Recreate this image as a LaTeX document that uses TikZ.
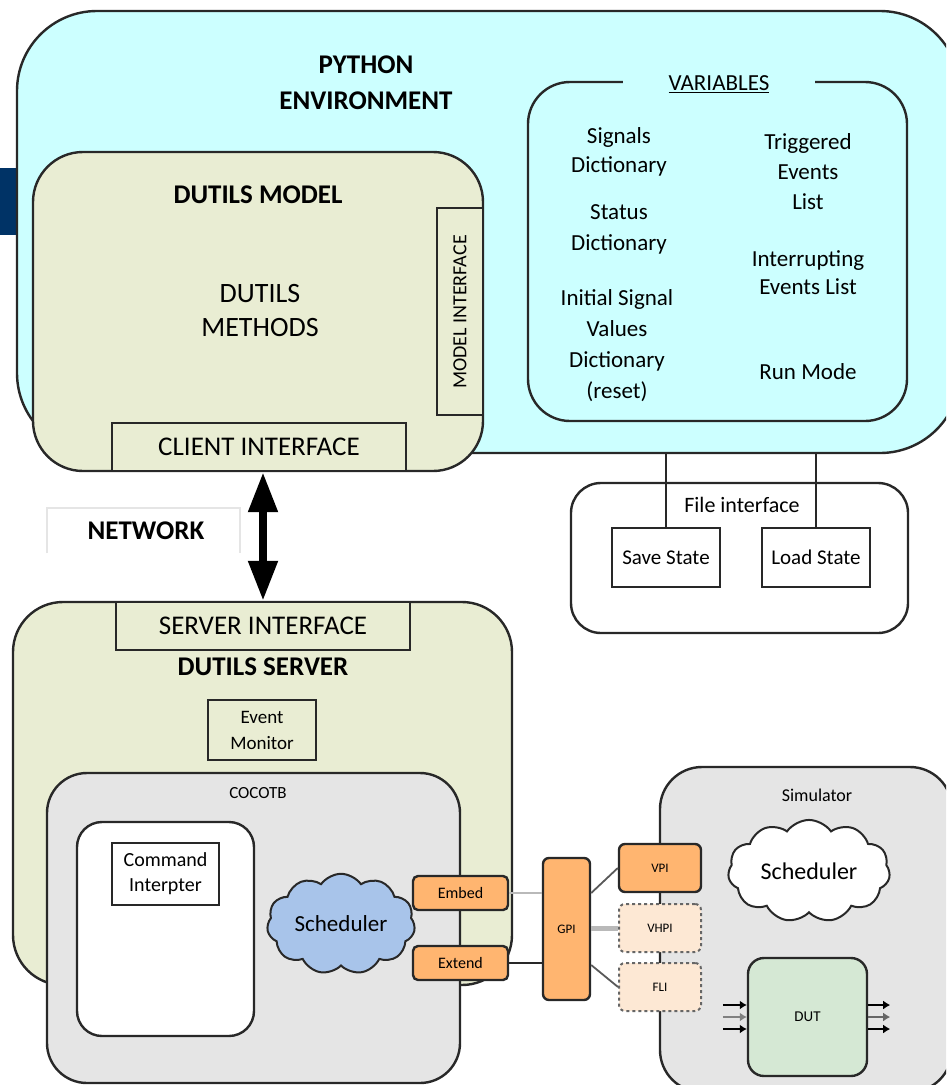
\documentclass[tikz,border=0pt]{standalone}
\usepackage{fontspec}
\setmainfont{Carlito}
\usetikzlibrary{shapes.symbols,arrows.meta}
\definecolor{pycyan}{RGB}{204,255,255}
\definecolor{oliv}{RGB}{233,237,211}
\definecolor{navy}{RGB}{0,51,102}
\definecolor{cocogray}{RGB}{229,229,229}
\definecolor{cloudblue}{RGB}{168,196,234}
\definecolor{orng}{RGB}{255,181,112}
\definecolor{lorng}{RGB}{253,232,212}
\definecolor{dutgreen}{RGB}{213,232,212}
\definecolor{edge}{RGB}{40,40,40}
\newcommand{\fs}[2]{\fontsize{#1}{#2}\selectfont}
\begin{document}
\begin{tikzpicture}[x=1pt,y=-1pt,
  box/.style={draw=edge, line width=2.4pt, inner sep=0pt, align=center},
  lbl/.style={inner sep=0pt, align=center},
  orangebox/.style={box, fill=orng, rounded corners=5pt},
  dashbox/.style={draw=gray!80!black, line width=2pt, dashed, fill=lorng, rounded corners=6pt, inner sep=0pt, align=center},
  link/.style={draw=edge, line width=2.2pt},
  glink/.style={draw=gray!55, line width=2.2pt},
  pin/.style={line width=2.4pt, -{Latex[length=7pt,width=9pt]}}
]
\useasboundingbox (0,0) rectangle (946,1085);
\clip (0,0) rectangle (946,1085);
\fill[white] (0,0) rectangle (946,1085);

% ---------- python environment ----------
\fill[navy] (0,168) rectangle (17,235);
\node[box, fill=pycyan, rounded corners=80pt, minimum width=943pt, minimum height=442pt] (py) at (488.5,232) {};
\node[lbl, font=\fs{27}{36}\bfseries] (pytitle) at (366,83) {PYTHON\\ENVIRONMENT};

% DUTILS model
\node[box, fill=oliv, rounded corners=50pt, minimum width=450pt, minimum height=319pt] (model) at (258,311.5) {};
\node[lbl, font=\fs{27}{33}\bfseries] (modeltitle) at (258,195) {DUTILS MODEL};
\node[lbl, font=\fs{28}{34}] (methods) at (260,311) {DUTILS\\METHODS};
\node[box, fill=oliv, minimum width=46pt, minimum height=207pt] (modelif) at (460,311.5) {};
\node[lbl, font=\fs{20}{24}, rotate=90] (modeliftext) at (460,312) {MODEL INTERFACE};
\node[box, fill=oliv, minimum width=294pt, minimum height=48pt, font=\fs{27}{33}] (client) at (259,447) {CLIENT INTERFACE};

% variables
\node[box, fill=pycyan, rounded corners=42pt, minimum width=379pt, minimum height=339pt] (vars) at (717.5,251.5) {};
\node[fill=pycyan, inner sep=2pt, minimum width=192pt, font=\fs{23}{28}] (vartitle) at (719,84) {\underline{VARIABLES}};
\node[lbl, font=\fs{23}{29}] (sigdict) at (619,152) {Signals\\Dictionary};
\node[lbl, font=\fs{23}{31}] (statdict) at (619,229) {Status\\Dictionary};
\node[lbl, font=\fs{23}{31}] (initdict) at (617,346) {Initial Signal\\Values\\Dictionary\\(reset)};
\node[lbl, font=\fs{23}{30}] (trig) at (808,172) {Triggered\\Events\\List};
\node[lbl, font=\fs{23}{28}] (intr) at (808,273) {Interrupting\\Events List};
\node[lbl, font=\fs{23}{28}] (runmode) at (808,372) {Run Mode};

% file interface
\node[box, fill=white, rounded corners=30pt, minimum width=337pt, minimum height=150pt] (fileif) at (739.5,558) {};
\node[lbl, font=\fs{22}{26}] (fileiftext) at (742,505) {File interface};
\node[box, fill=white, line width=2.8pt, minimum width=108pt, minimum height=59pt, font=\fs{21}{25}] (save) at (666,557.5) {Save State};
\node[box, fill=white, line width=2.8pt, minimum width=108pt, minimum height=59pt, font=\fs{21}{25}] (load) at (816,557.5) {Load State};
\draw[link] (save.north) -- (save.north |- py.south);
\draw[link] (load.north) -- (load.north |- py.south);

% network
\draw[gray!20, line width=2pt] (47,553) |- (240,508) -- (240,553);
\node[lbl, font=\fs{27}{33}\bfseries] (network) at (146,531) {NETWORK};

% ---------- dutils server ----------
\node[box, fill=oliv, rounded corners=50pt, minimum width=499pt, minimum height=383pt] (server) at (262.5,793.5) {};
\node[box, fill=oliv, minimum width=294pt, minimum height=48pt, font=\fs{27}{33}] (serverif) at (263,626) {SERVER INTERFACE};
\node[lbl, font=\fs{27}{33}\bfseries] (servertitle) at (263,667) {DUTILS SERVER};
\node[box, fill=oliv, minimum width=108pt, minimum height=60pt, font=\fs{19}{26}] (evmon) at (262,730) {Event\\Monitor};

\draw[line width=8pt, {Triangle[width=28pt,length=40pt]}-{Triangle[width=28pt,length=40pt]}] (client.south -| serverif.north) -- (serverif.north);

% cocotb
\node[box, fill=cocogray, rounded corners=40pt, minimum width=413pt, minimum height=310pt] (cocotb) at (253.5,928) {};
\node[lbl, font=\fs{17}{20}] (cocotbtext) at (258,793) {COCOTB};
\node[box, fill=white, rounded corners=25pt, minimum width=177pt, minimum height=214pt] (cmdarea) at (165.5,929) {};
\node[box, fill=white, minimum width=107pt, minimum height=62pt, font=\fs{20}{25}] (cmd) at (165.5,874) {Command\\Interpter};
\node[box, draw=edge, line width=2pt, fill=cloudblue, cloud, cloud puffs=11, cloud puff arc=110, aspect=1.55, minimum width=148pt, minimum height=95pt, font=\fs{23}{28}] (sched1) at (341,924) {Scheduler};
\node[orangebox, minimum width=95pt, minimum height=34pt, font=\fs{16}{19}] (embed) at (460.5,893) {Embed};
\node[orangebox, minimum width=95pt, minimum height=34pt, font=\fs{16}{19}] (extend) at (460.5,963) {Extend};

% simulator
\node[box, fill=cocogray, rounded corners=42pt, minimum width=292pt, minimum height=325pt] (sim) at (806,929.5) {};
\node[lbl, font=\fs{18}{22}] (simtext) at (817,795) {Simulator};
\node[box, draw=edge, line width=2pt, fill=white, cloud, cloud puffs=11, cloud puff arc=110, aspect=1.6, minimum width=162pt, minimum height=102pt, font=\fs{24}{29}] (sched2) at (809,871) {Scheduler};
\node[box, fill=dutgreen, rounded corners=16pt, minimum width=119pt, minimum height=118pt, font=\fs{15}{18}] (dut) at (807.5,1017) {DUT};
\draw[pin] ([shift={(-24pt,-12pt)}]dut.west) -- ([yshift=-12pt]dut.west);
\draw[pin, gray] ([shift={(-24pt,0pt)}]dut.west) -- (dut.west);
\draw[pin] ([shift={(-24pt,12pt)}]dut.west) -- ([yshift=12pt]dut.west);
\draw[pin] ([yshift=-12pt]dut.east) -- ([shift={(22pt,-12pt)}]dut.east);
\draw[pin, gray!80!black] (dut.east) -- ([xshift=22pt]dut.east);
\draw[pin] ([yshift=12pt]dut.east) -- ([shift={(22pt,12pt)}]dut.east);

% GPI and interfaces
\node[orangebox, rounded corners=6pt, minimum width=47pt, minimum height=142pt, font=\fs{13}{16}] (gpi) at (566.5,929) {GPI};
\node[orangebox, rounded corners=6pt, minimum width=82pt, minimum height=48pt, font=\fs{13}{16}] (vpi) at (660,868) {VPI};
\node[dashbox, minimum width=82pt, minimum height=48pt, font=\fs{13}{16}] (vhpi) at (660,928) {VHPI};
\node[dashbox, minimum width=82pt, minimum height=48pt, font=\fs{13}{16}] (fli) at (660,987) {FLI};

\draw[glink] (embed.east) -- (embed.east -| gpi.west);
\draw[link] (extend.east) -- (extend.east -| gpi.west);
\draw[link, draw=gray!70!black, line width=1.8pt] ([yshift=36pt]gpi.east) -- (vpi.west);
\draw[glink, line width=5pt] (gpi.east |- vhpi.west) -- (vhpi.west);
\draw[link, draw=gray!70!black, line width=1.8pt] ([yshift=-36pt]gpi.east) -- (fli.west);
\end{tikzpicture}
\end{document}
